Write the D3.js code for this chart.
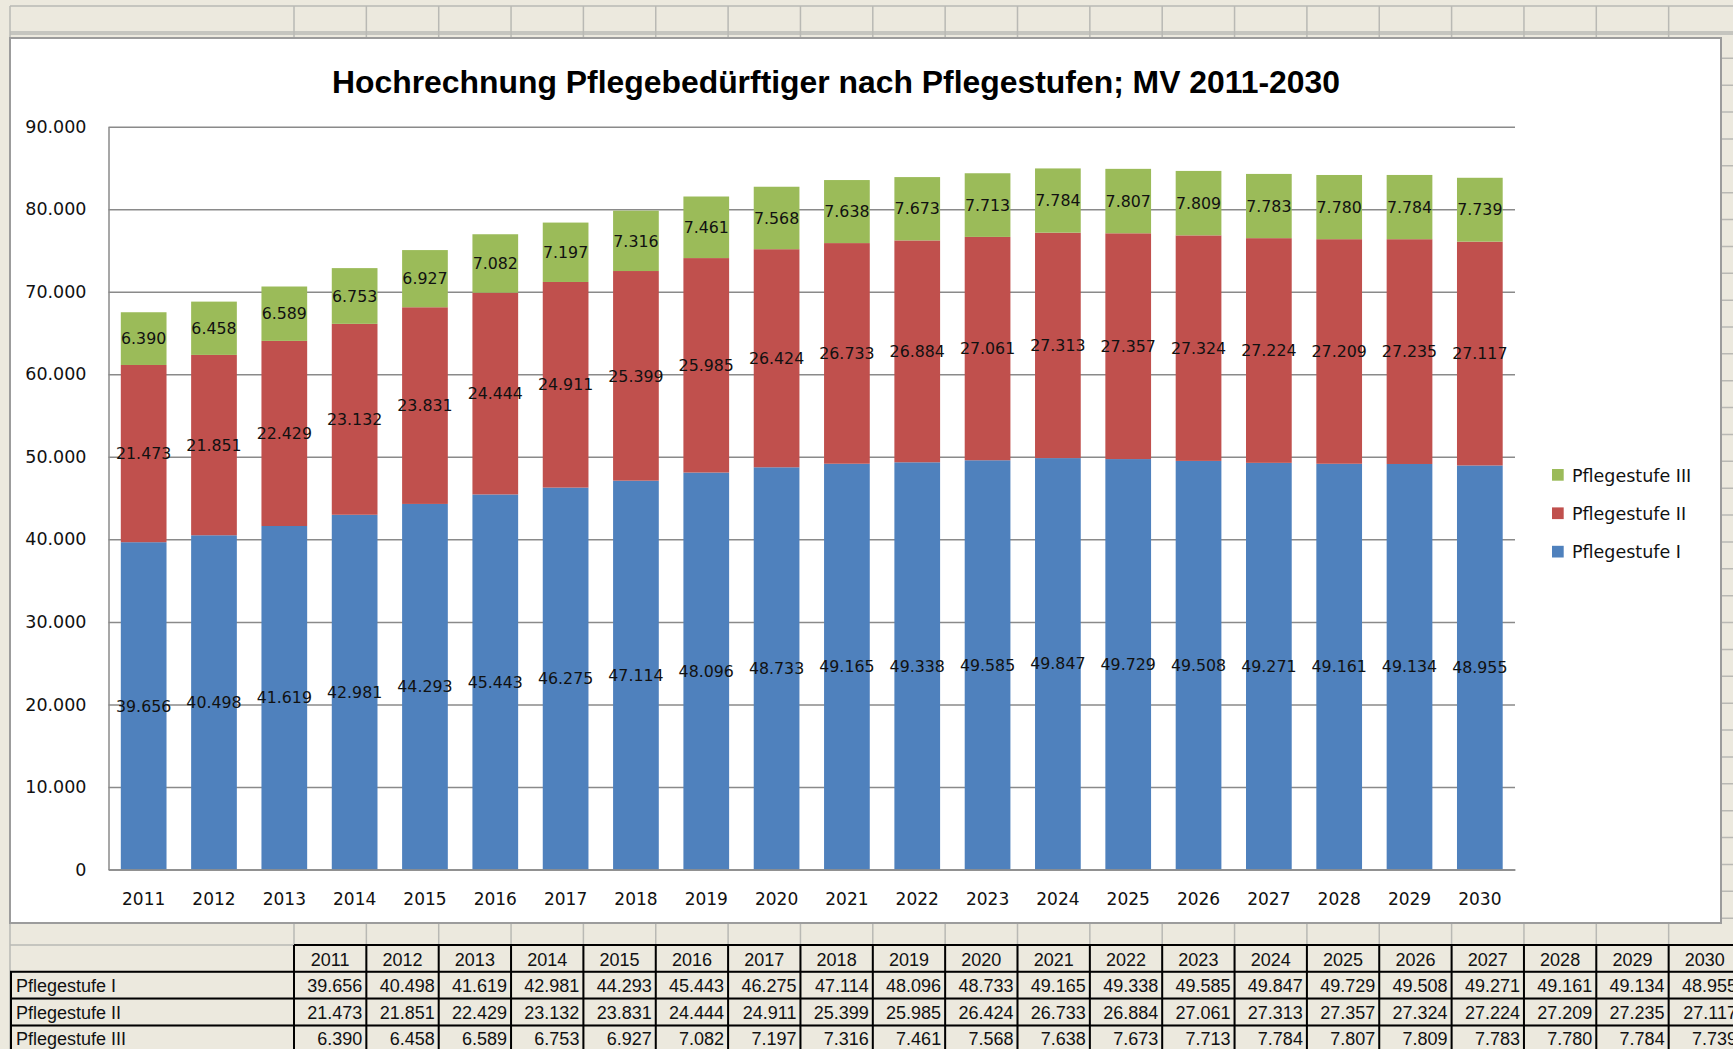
<!DOCTYPE html>
<html>
<head>
<meta charset="utf-8">
<script src="https://cdn.jsdelivr.net/npm/d3@7"></script>
<style>
  body { margin: 0; background: #ece9de; }
  svg { display: block; }
</style>
</head>
<body>
<script>
// Daten: Hochrechnung Pflegebedürftige MV
const years = ["2011", "2012", "2013", "2014", "2015", "2016", "2017", "2018", "2019", "2020",
               "2021", "2022", "2023", "2024", "2025", "2026", "2027", "2028", "2029", "2030"];
const stufe1 = [39656, 40498, 41619, 42981, 44293, 45443, 46275, 47114, 48096, 48733,
                49165, 49338, 49585, 49847, 49729, 49508, 49271, 49161, 49134, 48955];
const stufe2 = [21473, 21851, 22429, 23132, 23831, 24444, 24911, 25399, 25985, 26424,
                26733, 26884, 27061, 27313, 27357, 27324, 27224, 27209, 27235, 27117];
const stufe3 = [6390, 6458, 6589, 6753, 6927, 7082, 7197, 7316, 7461, 7568,
                7638, 7673, 7713, 7784, 7807, 7809, 7783, 7780, 7784, 7739];
const seriesNames = ["Pflegestufe I", "Pflegestufe II", "Pflegestufe III"];
const yTicks = [0, 10000, 20000, 30000, 40000, 50000, 60000, 70000, 80000, 90000];
const title = "Hochrechnung Pflegebedürftiger nach Pflegestufen; MV 2011-2030";

const W = 1733, H = 1049;
const colors = ["#4f81bd", "#c0504d", "#9bbb59"];
const de = d3.formatLocale({ decimal: ",", thousands: ".", grouping: [3], currency: ["", " €"] });
const fmt = de.format(",d");

const svg = d3.select("body").append("svg").attr("width", W).attr("height", H);

// --- Tabellenblatt im Hintergrund ---
const sheetLeft = 10, colAEnd = 294, colW = 72.35;
const cols = d3.scaleBand().domain(years).range([colAEnd, colAEnd + colW * years.length]);
const grid = svg.append("g").attr("stroke", "#b9b9b4").attr("stroke-width", 1.5);

// Zeilenlinien
[6, 32, 34].forEach(y => grid.append("line").attr("x1", sheetLeft).attr("x2", W).attr("y1", y).attr("y2", y));
const rowPitch = 26.87;
d3.range(0, 37).forEach(k => {
  const y = 58.3 + rowPitch * k;
  grid.append("line").attr("x1", sheetLeft).attr("x2", W).attr("y1", y).attr("y2", y);
});
// Spaltenlinien
grid.append("line").attr("x1", sheetLeft).attr("x2", sheetLeft).attr("y1", 6).attr("y2", H);
years.forEach(yr => {
  const x = cols(yr);
  grid.append("line").attr("x1", x).attr("x2", x).attr("y1", 6).attr("y2", H);
});

// --- Diagrammfläche ---
const chart = { x: 10, y: 38, w: 1711, h: 885 };
svg.append("rect")
  .attr("x", chart.x).attr("y", chart.y).attr("width", chart.w).attr("height", chart.h)
  .attr("fill", "#fff").attr("stroke", "#9c9c9c").attr("stroke-width", 2);

svg.append("text")
  .attr("x", 836).attr("y", 93)
  .attr("text-anchor", "middle")
  .attr("font-family", "Liberation Sans, Arial, sans-serif")
  .attr("font-weight", "bold").attr("font-size", 31)
  .attr("textLength", 1008).attr("lengthAdjust", "spacingAndGlyphs")
  .text(title);

const plot = { left: 108.5, right: 1515, top: 126.7, bottom: 869.5 };
const x = d3.scaleBand().domain(years).range([plot.left, plot.right])
  .paddingInner(0.35).paddingOuter(0.175);
const y = d3.scaleLinear().domain([0, 90000]).range([plot.bottom, plot.top]);

const rows = years.map((yr, i) => ({ year: yr, s0: stufe1[i], s1: stufe2[i], s2: stufe3[i] }));
const stacked = d3.stack().keys(["s0", "s1", "s2"])(rows);

// y-Achse mit Gitternetz
const yAxis = svg.append("g")
  .attr("transform", `translate(${plot.left},0)`)
  .call(d3.axisLeft(y).tickValues(yTicks).tickFormat(fmt)
    .tickSize(-(plot.right - plot.left)).tickSizeOuter(0).tickPadding(22));
yAxis.selectAll(".tick line").attr("stroke", "#8a8a8a").attr("stroke-width", 1.5);
yAxis.select(".domain").attr("stroke", "#8a8a8a").attr("stroke-width", 1.5);
yAxis.selectAll("text")
  .attr("font-family", "DejaVu Sans, Verdana, sans-serif").attr("font-size", 17.5)
  .attr("fill", "#111");

// Balken
const layers = svg.append("g").selectAll("g")
  .data(stacked).join("g")
  .attr("fill", (d, i) => colors[i]);
layers.selectAll("rect")
  .data(d => d).join("rect")
  .attr("x", d => x(d.data.year))
  .attr("width", x.bandwidth())
  .attr("y", d => y(d[1]))
  .attr("height", d => y(d[0]) - y(d[1]));

// x-Achse
const xAxis = svg.append("g")
  .attr("transform", `translate(0,${plot.bottom})`)
  .call(d3.axisBottom(x).tickSize(0).tickPadding(23));
xAxis.select(".domain").attr("stroke", "#8a8a8a").attr("stroke-width", 1.5);
xAxis.selectAll("text")
  .attr("font-family", "DejaVu Sans, Verdana, sans-serif").attr("font-size", 17)
  .attr("fill", "#111");

// Datenbeschriftungen
svg.append("g").selectAll("g")
  .data(stacked).join("g")
  .selectAll("text")
  .data(d => d).join("text")
  .attr("x", d => x(d.data.year) + x.bandwidth() / 2)
  .attr("y", d => y((d[0] + d[1]) / 2))
  .attr("dy", "0.36em")
  .attr("text-anchor", "middle")
  .attr("font-family", "DejaVu Sans, Verdana, sans-serif").attr("font-size", 15.8)
  .attr("fill", "#111")
  .text(d => fmt(d[1] - d[0]));

// Legende
const legend = svg.append("g").selectAll("g")
  .data(seriesNames.map((n, i) => ({ name: n, i })).reverse())
  .join("g")
  .attr("transform", (d, k) => `translate(1552,${469 + k * 38.4})`);
legend.append("rect").attr("width", 11.7).attr("height", 11.7).attr("fill", d => colors[d.i]);
legend.append("text")
  .attr("x", 20).attr("y", 12.5)
  .attr("font-family", "DejaVu Sans, Verdana, sans-serif").attr("font-size", 17.5)
  .attr("fill", "#111")
  .text(d => d.name);

// --- Wertetabelle unter dem Diagramm ---
const tableTop = 945, rowH = 26.8;
const tbl = svg.append("g")
  .attr("font-family", "Liberation Sans, Arial, sans-serif").attr("font-size", 18).attr("fill", "#111");
const tableEnd = cols.range()[1];
const black = tbl.append("g").attr("stroke", "#000").attr("stroke-width", 2);

// Kopfzeile mit Jahren
black.append("line").attr("x1", colAEnd).attr("x2", tableEnd).attr("y1", tableTop).attr("y2", tableTop);
years.forEach(yr => {
  tbl.append("text")
    .attr("x", cols(yr) + cols.bandwidth() / 2).attr("y", tableTop + 21)
    .attr("text-anchor", "middle").text(yr);
});
// Datenzeilen
const tableSeries = [stufe1, stufe2, stufe3];
tableSeries.forEach((vals, r) => {
  const top = tableTop + rowH * (r + 1);
  tbl.append("text").attr("x", 16).attr("y", top + 20).text(seriesNames[r]);
  vals.forEach((v, i) => {
    tbl.append("text")
      .attr("x", cols(years[i]) + cols.bandwidth() - 4).attr("y", top + 20)
      .attr("text-anchor", "end").text(fmt(v));
  });
});
d3.range(1, 5).forEach(k => {
  const yy = tableTop + rowH * k;
  black.append("line").attr("x1", sheetLeft).attr("x2", tableEnd).attr("y1", yy).attr("y2", yy);
});
black.append("line").attr("x1", sheetLeft + 1).attr("x2", sheetLeft + 1)
  .attr("y1", tableTop + rowH).attr("y2", H);
years.concat(["end"]).forEach((yr, i) => {
  const xx = i < years.length ? cols(yr) : tableEnd;
  black.append("line").attr("x1", xx).attr("x2", xx).attr("y1", tableTop).attr("y2", H);
});
</script>
</body>
</html>
